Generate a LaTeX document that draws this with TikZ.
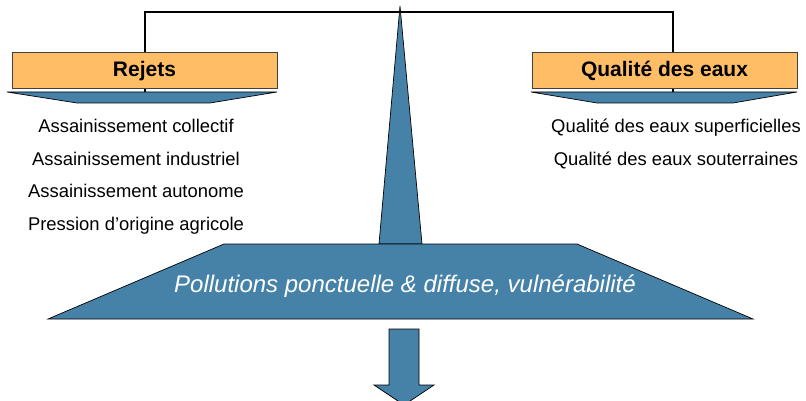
\documentclass[tikz,border=0pt]{standalone}
\usepackage{fontspec}
\setmainfont{Liberation Sans}
\usetikzlibrary{positioning}
\definecolor{bleuplateau}{RGB}{70,130,168}
\definecolor{orangeclair}{RGB}{255,190,102}

\begin{document}
\begin{tikzpicture}[x=1pt,y=-1pt,
            titre/.style={draw=black!75,fill=orangeclair,line width=0.8pt,minimum width=265pt,minimum height=36pt,
                    inner sep=0pt,text height=15pt,text depth=1pt,font=\fontsize{21}{25}\selectfont\bfseries},
            item/.style={anchor=base,inner sep=0pt,font=\fontsize{18.4}{22}\selectfont},
            plateau/.style={draw=black,fill=bleuplateau,line width=0.7pt,line join=miter},
            fleau/.style={draw=black,line width=2pt}]
        \useasboundingbox (0,0) rectangle (806,401);
        \coordinate (sommet) at (400,12);
        \coordinate (brasG) at (145,92);
        \coordinate (brasD) at (673,92);
        \draw[fleau] (brasG) |- (sommet) -| (brasD);
        \node[titre] (rejets) at (144.5,70) {Rejets};
        \node[titre] (qualite) at (664.5,70) {Qualité des eaux};
        \draw[plateau] (7,92) -- (277,92) -- (210,103) -- (77,103) -- cycle;
        \draw[plateau] (531,92) -- (797,92) -- (733,103) -- (597,103) -- cycle;
        \draw[plateau] (379,244) -- (400,6) -- (422,244) -- cycle;
        \draw[plateau] (224,244) -- (577,244) -- (753,319) -- (48,319) -- cycle;
        \node[anchor=base,inner sep=0pt,text=white,font=\fontsize{24}{28}\selectfont\itshape] (pollution) at (405,292)
            {Pollutions ponctuelle \& diffuse, vulnérabilité};
        \draw[plateau] (389,329) -- (419,329) -- (419,385) -- (434,385) -- (404,405) -- (374,385) -- (389,385) -- cycle;
        \foreach \t [count=\i] in {Assainissement collectif,Assainissement industriel,
                Assainissement autonome,Pression d’origine agricole}
            \node[item] (rej\i) at (136,100.6+32.4*\i) {\t};
        \foreach \t [count=\i] in {Qualité des eaux superficielles,Qualité des eaux souterraines}
            \node[item] (qual\i) at (676,100.6+32.4*\i) {\t};
    \end{tikzpicture}
\end{document}
